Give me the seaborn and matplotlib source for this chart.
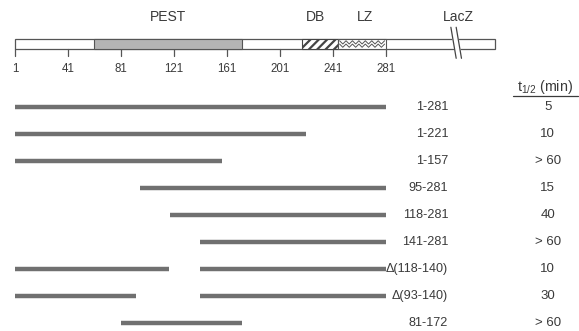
import numpy as np
import pandas as pd
import seaborn as sns
import matplotlib.pyplot as plt

# constructs: segments (start, end residue) per row, label, half-life
construct_labels = ['1-281', '1-221', '1-157', '95-281', '118-281', '141-281',
                    '\u0394(118-140)', '\u0394(93-140)', '81-172']
segments = [
    [(1, 281)],
    [(1, 221)],
    [(1, 157)],
    [(95, 281)],
    [(118, 281)],
    [(141, 281)],
    [(1, 117), (141, 281)],
    [(1, 92), (141, 281)],
    [(81, 172)],
]
half_life = ['5', '10', '> 60', '15', '40', '> 60', '10', '30', '> 60']

# domain map
tick_residues = [1, 41, 81, 121, 161, 201, 241, 281]
domain_names = ['PEST', 'DB', 'LZ', 'LacZ']
domain_start = [61, 218, 245, 333]
domain_end = [172, 245, 281, 364]
protein_end = 363


def main():
    sns.set_theme(style="white")
    plt.rcParams['font.family'] = ['Liberation Sans', 'DejaVu Sans']
    txt = '#3a3a3a'

    fig = plt.figure(figsize=(5.79, 3.31), dpi=100)
    ax = fig.add_axes([0, 0, 1, 1])

    # long table for seaborn: one unit per segment
    recs = []
    seg_id = 0
    for row, segs in enumerate(segments):
        for a, b in segs:
            recs.append({'res': a, 'row': row, 'seg': seg_id})
            recs.append({'res': b, 'row': row, 'seg': seg_id})
            seg_id += 1
    df = pd.DataFrame(recs)
    sns.lineplot(data=df, x='res', y='row', units='seg', estimator=None,
                 color='#707070', lw=3.2, solid_capstyle='butt', ax=ax, legend=False)

    # row labels and half-lives
    for row, (lab, t) in enumerate(zip(construct_labels, half_life)):
        ax.text(328, row, lab, ha='right', va='center', fontsize=9.1, color=txt)
        ax.text(403, row, t, ha='center', va='center', fontsize=9.5, color=txt)

    ax.text(401, -0.72, r'$\mathregular{t_{1/2}}$ (min)', ha='center', va='center',
            fontsize=10.3, color=txt)
    ax.plot([377, 426], [-0.42, -0.42], color=txt, lw=0.9)

    # protein bar
    y0, y1 = -2.52, -2.15
    h = y1 - y0
    ax.barh(y0 + h / 2, protein_end - 1, left=1, height=h, color='white',
            edgecolor='#555555', lw=0.9, zorder=2)
    ax.barh(y0 + h / 2, domain_end[0] - domain_start[0], left=domain_start[0], height=h,
            color='#b4b4b4', edgecolor='#555555', lw=0.8, zorder=3)
    plt.rcParams['hatch.linewidth'] = 1.6
    ax.barh(y0 + h / 2, domain_end[1] - domain_start[1], left=domain_start[1], height=h,
            color='white', edgecolor='#444444', hatch='////', lw=0.8, zorder=3)
    ax.barh(y0 + h / 2, domain_end[2] - domain_start[2], left=domain_start[2], height=h,
            color='white', edgecolor='#555555', lw=0.8, zorder=3)
    # zigzag fill for LZ
    for yz in [y0 + h * 0.35, y0 + h * 0.68]:
        xs = np.linspace(domain_start[2] + 1, domain_end[2] - 1, 15)
        ys = yz + np.where(np.arange(15) % 2 == 0, -0.06, 0.06)
        ax.plot(xs, ys, color='#555555', lw=0.7, zorder=4)

    # LacZ break
    bx = domain_start[3]
    ax.fill([bx - 3, bx + 1, bx + 5, bx + 1], [-2.95, -2.95, -1.8, -1.8],
            color='white', zorder=4)
    for dx in (-3, 1):
        ax.plot([bx + dx, bx + dx + 4], [-2.95, -1.8], color='#444444', lw=0.9, zorder=5)

    # ruler ticks
    for r in tick_residues:
        ax.plot([r, r], [y1, y1 + 0.28], color='#555555', lw=0.9)
        ax.text(r, -1.41, str(r), ha='center', va='center', fontsize=8.3, color=txt)

    # domain names
    name_x = [(domain_start[0] + domain_end[0]) / 2, 228, 265, 336]
    for n, xn in zip(domain_names, name_x):
        ax.text(xn, -3.32, n, ha='center', va='center', fontsize=10, color=txt)

    ax.set_xlim(-10.3, 426.7)
    ax.set_ylim(8.3, -3.96)
    ax.axis('off')
    fig.savefig('out.png', dpi=100)


if __name__ == "__main__":
    main()
